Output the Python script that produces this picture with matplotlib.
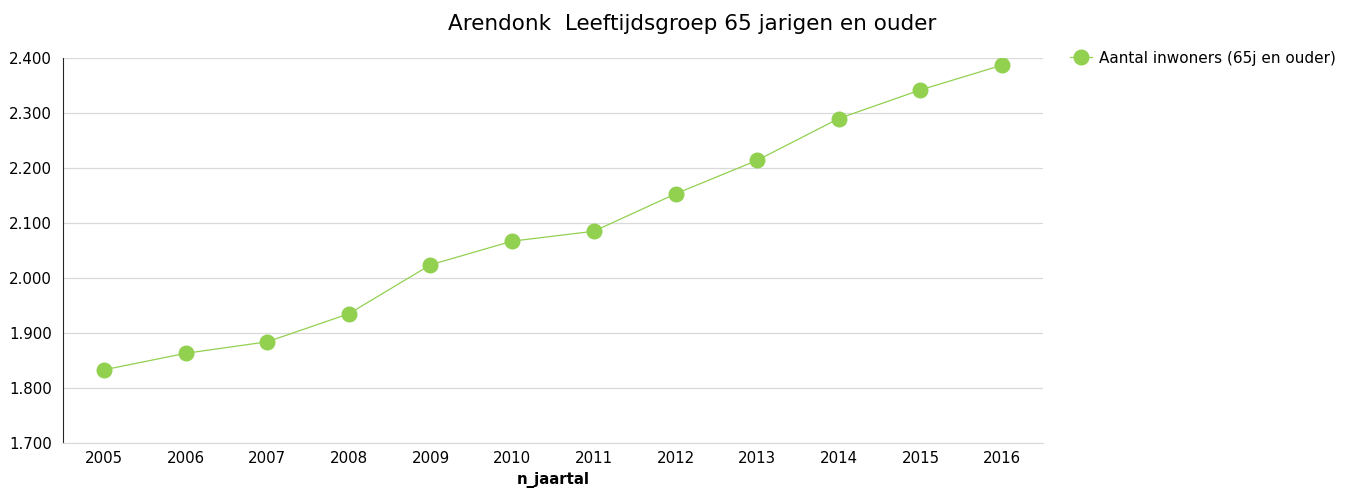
import matplotlib
matplotlib.use("Agg")
import matplotlib.pyplot as plt
from matplotlib.ticker import FuncFormatter

# data
years = ['2005', '2006', '2007', '2008', '2009', '2010',
         '2011', '2012', '2013', '2014', '2015', '2016']
inwoners = [1833, 1863, 1884, 1935, 2024, 2067, 2085, 2153, 2214, 2290, 2342, 2387]

plt.rcParams['font.family'] = ['DejaVu Sans']
green = '#92D050'

fig = plt.figure(figsize=(13.52, 4.96), dpi=100)
ax = fig.add_axes([63 / 1352, 1 - 443 / 496, 980 / 1352, 385 / 496])

x = range(len(years))
ax.plot(x, inwoners, color=green, linewidth=0.9, marker='o', markersize=10.5,
        markeredgecolor=green, label='Aantal inwoners (65j en ouder)', zorder=3)

ax.set_xlim(-0.5, len(years) - 0.5)
ax.set_ylim(1700, 2400)
ax.set_yticks(range(1700, 2401, 100))
ax.yaxis.set_major_formatter(FuncFormatter(lambda v, p: f"{int(v):,}".replace(',', '.')))
ax.set_xticks(list(x))
ax.set_xticklabels(years)
ax.tick_params(length=0, labelsize=10.8, pad=6)
ax.tick_params(axis='y', pad=8)

ax.grid(axis='y', color='#D9D9D9', linewidth=0.9)
ax.set_axisbelow(True)
for s in ['top', 'right']:
    ax.spines[s].set_visible(False)
ax.spines['left'].set_color('#262626')
ax.spines['bottom'].set_color('#D9D9D9')

ax.set_xlabel('n_jaartal', fontsize=10.8, fontweight='bold', labelpad=4)
fig.text(692 / 1352, 1 - 24 / 496, 'Arendonk  Leeftijdsgroep 65 jarigen en ouder',
         ha='center', va='center', fontsize=15.5)

ax.legend(loc='center left', bbox_to_anchor=(1064 / 1352, 1 - 58 / 496),
          bbox_transform=fig.transFigure, frameon=False, fontsize=11,
          handlelength=1.4, handletextpad=0.5, borderaxespad=0)

fig.savefig('out.png', dpi=100)
